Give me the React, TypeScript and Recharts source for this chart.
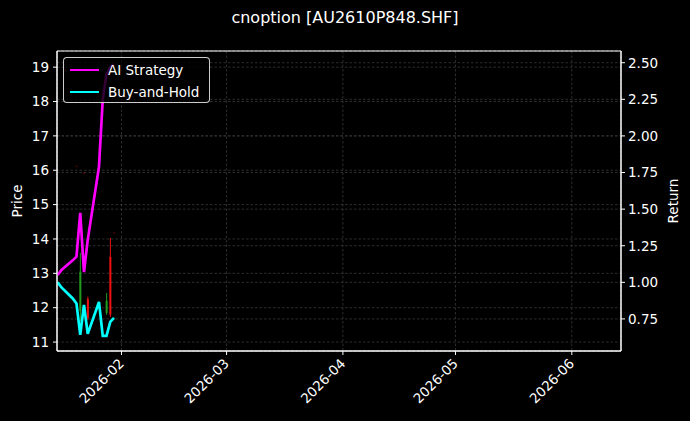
import React from 'react';
import {
  ComposedChart, Line, Bar, XAxis, YAxis, CartesianGrid, Legend, ReferenceArea
} from 'recharts';

const DAY = 86400000;
const day = (m: number, d: number) => Date.UTC(2026, m - 1, d);

// trading days shown in the chart
const dates = [
  day(1, 15), day(1, 16), day(1, 19), day(1, 20), day(1, 21), day(1, 22),
  day(1, 23), day(1, 26), day(1, 27), day(1, 28), day(1, 29), day(1, 30),
];

const aiReturn = [1.05, 1.085, 1.15, 1.175, 1.475, 1.07, 1.29, 1.79, 2.25, 2.42, 2.47, 2.49];
const bhReturn = [1.0, 0.965, 0.89, 0.856, 0.641, 0.846, 0.648, 0.866, 0.634, 0.634, 0.73, 0.757];

// option price candles (null = no visible candle)
const opens = [null, null, null, 16.12, 11.9, 15.92, 12.25, null, null, 11.85, 13.48, 14.19];
const highs = [null, null, null, 16.12, 13.6, 15.92, 12.32, null, null, 12.43, 14.03, 14.19];
const lows = [null, null, null, 16.08, 11.6, 15.88, 11.64, null, null, 11.79, 11.73, 14.15];
const closes = [null, null, null, 16.08, 13.05, 15.88, 11.7, null, null, 12.2, 11.8, 14.15];

const monthTicks = [day(2, 1), day(3, 1), day(4, 1), day(5, 1), day(6, 1)];
const priceTicks = [11, 12, 13, 14, 15, 16, 17, 18, 19];
const returnTicks = [0.75, 1.0, 1.25, 1.5, 1.75, 2.0, 2.25, 2.5];

const xDomain = [day(1, 14) + 0.81 * DAY, day(6, 14) + 0.11 * DAY];
const priceDomain = [10.74, 19.47];
const returnDomain = [0.531, 2.58];

const data = dates.map((t, i) => ({
  t,
  ai: aiReturn[i],
  bh: bhReturn[i],
  open: opens[i],
  high: highs[i],
  low: lows[i],
  close: closes[i],
}));

const FONT = '"DejaVu Sans", sans-serif';
const UP = '#1f9a1f';
const DOWN = '#ee1111';
const GRID = '#404040';

const fmtMonth = (v: number) => {
  const d = new Date(v);
  return `${d.getUTCFullYear()}-${String(d.getUTCMonth() + 1).padStart(2, '0')}`;
};

const DateTick = ({ x, y, payload }: any) => (
  <g transform={`translate(${x - 4},${y})`}>
    <text
      x={0}
      y={0}
      textAnchor="end"
      dominantBaseline="hanging"
      transform="rotate(-45)"
      fill="#fff"
      fontSize={13.5}
      fontFamily={FONT}
    >
      {fmtMonth(payload.value)}
    </text>
  </g>
);

const SideLabel = ({ viewBox, text, dx }: any) => {
  if (!viewBox) return null;
  const cx = viewBox.x + dx;
  const cy = viewBox.y + viewBox.height / 2;
  return (
    <text
      x={cx}
      y={cy}
      transform={`rotate(-90 ${cx} ${cy})`}
      textAnchor="middle"
      dominantBaseline="central"
      fill="#fff"
      fontSize={13.5}
      fontFamily={FONT}
    >
      {text}
    </text>
  );
};

const Candle = (props: any) => {
  const { x, y, width, height, payload } = props;
  if (payload == null || payload.high == null) return null;
  const top = Math.min(y, y + height);
  const h = Math.abs(height);
  const span = payload.high - payload.low;
  const cx = x + width / 2;
  const color = payload.close >= payload.open ? UP : DOWN;
  if (span < 0.1) {
    return <rect x={cx - 1} y={top - 0.5} width={2} height={1.5} fill={DOWN} opacity={0.3} />;
  }
  const yOf = (v: number) => top + ((payload.high - v) / span) * h;
  const b1 = yOf(Math.max(payload.open, payload.close));
  const b2 = yOf(Math.min(payload.open, payload.close));
  return (
    <g>
      <line x1={cx} x2={cx} y1={top} y2={top + h} stroke={color} strokeWidth={1} />
      <rect x={cx - 1} y={b1} width={2} height={Math.max(b2 - b1, 1)} fill={color} />
    </g>
  );
};

const LegendBox = ({ payload }: any) => {
  const items = (payload || []).filter((p: any) => p.dataKey === 'ai' || p.dataKey === 'bh');
  return (
    <div
      style={{
        position: 'relative',
        width: 145,
        height: 44,
        border: '1px solid rgba(255,255,255,0.8)',
        borderRadius: 4,
        background: 'rgba(0,0,0,0.8)',
        fontFamily: FONT,
        fontSize: 13.5,
        color: '#fff',
      }}
    >
      {items.map((p: any, i: number) => (
        <div key={p.value} style={{ position: 'absolute', left: 0, top: 1 + i * 22, height: 22, display: 'flex', alignItems: 'center' }}>
          <div style={{ marginLeft: 6, width: 29, height: 2.6, background: p.color }} />
          <span style={{ marginLeft: 9, whiteSpace: 'nowrap' }}>{p.value}</span>
        </div>
      ))}
    </div>
  );
};

export default function App() {
  return (
    <div style={{ position: 'absolute', left: 0, top: 0, width: 690, height: 421, background: '#000', overflow: 'hidden' }}>
      <div
        style={{
          position: 'absolute',
          top: 8,
          left: 0,
          width: 690,
          textAlign: 'center',
          color: '#fff',
          fontFamily: FONT,
          fontSize: 16,
          lineHeight: '20px',
        }}
      >
        cnoption [AU2610P848.SHF]
      </div>
      <ComposedChart
        width={690}
        height={421}
        data={data}
        margin={{ top: 51, right: 10, bottom: 10, left: 10 }}
      >
        <CartesianGrid
          yAxisId="price"
          stroke={GRID}
          strokeDasharray="2.5 2"
          strokeWidth={0.7}
        />
        <CartesianGrid
          yAxisId="ret"
          vertical={false}
          stroke={GRID}
          strokeDasharray="2.5 2"
          strokeWidth={0.7}
        />
        <XAxis
          dataKey="t"
          type="number"
          scale="time"
          domain={xDomain}
          ticks={monthTicks}
          allowDataOverflow
          height={60}
          tickSize={4}
          tickMargin={2}
          stroke="#fff"
          tick={<DateTick />}
          interval={0}
        />
        <YAxis
          yAxisId="price"
          orientation="left"
          domain={priceDomain}
          ticks={priceTicks}
          allowDataOverflow
          width={47}
          tickSize={4}
          tickMargin={4}
          stroke="#fff"
          tick={{ fill: '#fff', fontSize: 13.5, fontFamily: FONT }}
          label={<SideLabel text="Price" dx={7} />}
        />
        <YAxis
          yAxisId="ret"
          orientation="right"
          domain={returnDomain}
          ticks={returnTicks}
          allowDataOverflow
          width={59}
          tickSize={4}
          tickMargin={3}
          stroke="#fff"
          tickFormatter={(v: number) => v.toFixed(2)}
          tick={{ fill: '#fff', fontSize: 13.5, fontFamily: FONT }}
          label={<SideLabel text="Return" dx={52} />}
        />
        <ReferenceArea
          yAxisId="price"
          x1={xDomain[0]}
          x2={xDomain[1]}
          y1={priceDomain[0]}
          y2={priceDomain[1]}
          fill="none"
          stroke="#fff"
          strokeWidth={1}
          ifOverflow="visible"
        />
        <Bar
          yAxisId="price"
          dataKey={(d: any) => (d.high == null ? undefined : [d.low, d.high])}
          barSize={2}
          shape={<Candle />}
          legendType="none"
          isAnimationActive={false}
        />
        <Line
          yAxisId="ret"
          dataKey="ai"
          name="AI Strategy"
          stroke="#ff00ff"
          strokeWidth={2.7}
          dot={false}
          isAnimationActive={false}
        />
        <Line
          yAxisId="ret"
          dataKey="bh"
          name="Buy-and-Hold"
          stroke="#00ffff"
          strokeWidth={2.7}
          dot={false}
          isAnimationActive={false}
        />
        <Legend
          layout="horizontal"
          verticalAlign="middle"
          align="center"
          content={<LegendBox />}
          wrapperStyle={{ position: 'absolute', left: 63, top: 57, width: 147, height: 46 }}
        />
      </ComposedChart>
    </div>
  );
}
